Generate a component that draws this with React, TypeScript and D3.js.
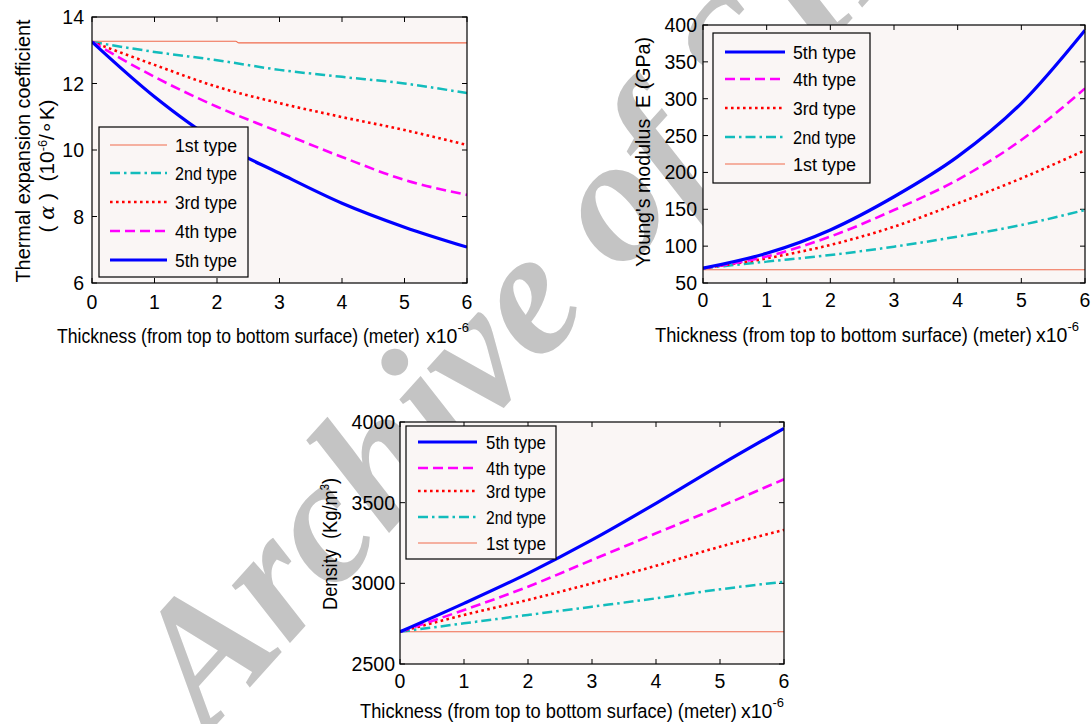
import React from 'react';
import * as d3 from 'd3';

// ---------------- DATA ----------------
const X_VALUES = [0, 1, 2, 3, 4, 5, 6];
const X_TICKS = [0, 1, 2, 3, 4, 5, 6];
const TYPE_NAMES = ['1st type', '2nd type', '3rd type', '4th type', '5th type'];

// Thermal expansion coefficient (10^-6 / K)
const THERMAL_1ST_X = [0, 2.3, 2.35, 6];
const THERMAL_1ST = [13.27, 13.27, 13.22, 13.22];
const THERMAL_2ND = [13.25, 12.95, 12.7, 12.41, 12.2, 12.0, 11.71];
const THERMAL_3RD = [13.25, 12.56, 11.9, 11.41, 10.99, 10.6, 10.15];
const THERMAL_4TH = [13.25, 12.2, 11.3, 10.54, 9.79, 9.1, 8.65];
const THERMAL_5TH = [13.25, 11.6, 10.25, 9.3, 8.4, 7.68, 7.08];
const THERMAL_Y_TICKS = [6, 8, 10, 12, 14];

// Young's modulus (GPa)
const YOUNG_1ST = [68, 68, 68, 68, 68, 68, 68];
const YOUNG_2ND = [70, 79, 88, 99.3, 113, 128.7, 149];
const YOUNG_3RD = [70, 83.5, 101.6, 126.4, 158, 192, 230];
const YOUNG_4TH = [70, 86, 113, 149, 190, 244, 314];
const YOUNG_5TH = [70, 90.3, 122, 167, 221.4, 293.8, 393];
const YOUNG_Y_TICKS = [50, 100, 150, 200, 250, 300, 350, 400];

// Density (Kg/m^3)
const DENSITY_1ST = [2700, 2700, 2700, 2700, 2700, 2700, 2700];
const DENSITY_2ND = [2700, 2752, 2804, 2855, 2907, 2963, 3010];
const DENSITY_3RD = [2700, 2804, 2897, 3000, 3109, 3227, 3331];
const DENSITY_4TH = [2700, 2835, 2979, 3145, 3310, 3475, 3645];
const DENSITY_5TH = [2700, 2876, 3062, 3269, 3496, 3733, 3961];
const DENSITY_Y_TICKS = [2500, 3000, 3500, 4000];

const X_LABEL = 'Thickness (from top to bottom surface) (meter)';
const X_LABEL_EM = 20.62; // Arial/Liberation Sans advance width of X_LABEL in em

// ---------------- STYLES ----------------
const STYLES = [
  { color: '#f06a4c', width: 1.2, dash: undefined as string | undefined },
  { color: '#12bcbc', width: 2.5, dash: '10,4,2.5,4' },
  { color: '#ff0000', width: 2.6, dash: '2.6,3.4' },
  { color: '#ff00ff', width: 2.6, dash: '10,5' },
  { color: '#0000ff', width: 3.2, dash: undefined },
];
const FONT = '"Liberation Sans", Arial, Helvetica, sans-serif';
const PLOT_BG = '#faf6f5';

type Series = { xs: number[]; ys: number[]; style: number };

interface ChartCfg {
  id: string;
  left: number; right: number; top: number; bottom: number;
  yDomain: [number, number];
  yTicks: number[];
  series: Series[];
  tickFs: number; tickGap: number; xTickBase: number;
  legend: { x: number; y: number; w: number; h: number; rows: number[]; order: number[]; sx0: number; sx1: number; tx: number; fs: number; tl: number };
  ylabel: { lines: React.ReactNode[]; xs: number[]; cy: number[]; lens: number[]; fs: number };
  xlabel: { x0: number; x1: number; base: number; xx: number; fs: number };
}

function Chart({ cfg }: { cfg: ChartCfg }) {
  const x = d3.scaleLinear().domain([0, 6]).range([cfg.left, cfg.right]);
  const y = d3.scaleLinear().domain(cfg.yDomain).range([cfg.bottom, cfg.top]);
  const line = d3.line<[number, number]>().x(d => x(d[0])).y(d => y(d[1])).curve(d3.curveMonotoneX);
  const tl = 5;
  const L = cfg.legend;
  const xlSx = (cfg.xlabel.x1 - cfg.xlabel.x0) / (X_LABEL_EM * cfg.xlabel.fs);
  return (
    <g fontFamily={FONT}>
      <defs>
        <clipPath id={`clip-${cfg.id}`}>
          <rect x={cfg.left} y={cfg.top} width={cfg.right - cfg.left} height={cfg.bottom - cfg.top} />
        </clipPath>
      </defs>
      <rect x={cfg.left} y={cfg.top} width={cfg.right - cfg.left} height={cfg.bottom - cfg.top} fill={PLOT_BG} />
      {X_TICKS.map(t => (
        <g key={`xt${t}`} stroke="#000" strokeWidth={1}>
          <line x1={x(t)} x2={x(t)} y1={cfg.bottom} y2={cfg.bottom - tl} />
          <line x1={x(t)} x2={x(t)} y1={cfg.top} y2={cfg.top + tl} />
        </g>
      ))}
      {cfg.yTicks.map(t => (
        <g key={`yt${t}`} stroke="#000" strokeWidth={1}>
          <line x1={cfg.left} x2={cfg.left + tl} y1={y(t)} y2={y(t)} />
          <line x1={cfg.right} x2={cfg.right - tl} y1={y(t)} y2={y(t)} />
        </g>
      ))}
      <g clipPath={`url(#clip-${cfg.id})`}>
        {cfg.series.map((s, i) => {
          const st = STYLES[s.style];
          const pts = s.xs.map((xv, k) => [xv, s.ys[k]] as [number, number]);
          return (
            <path key={i} d={line(pts) || ''} fill="none" stroke={st.color} strokeWidth={st.width}
              strokeDasharray={st.dash} strokeLinejoin="round" />
          );
        })}
      </g>
      <rect x={cfg.left} y={cfg.top} width={cfg.right - cfg.left} height={cfg.bottom - cfg.top} fill="none" stroke="#000" strokeWidth={1.2} />
      {X_TICKS.map(t => (
        <text key={`xl${t}`} x={x(t)} y={cfg.xTickBase} textAnchor="middle" fontSize={cfg.tickFs}>{t}</text>
      ))}
      {cfg.yTicks.map(t => (
        <text key={`yl${t}`} x={cfg.left - cfg.tickGap} y={y(t)} dy="0.36em" textAnchor="end" fontSize={cfg.tickFs}>{t}</text>
      ))}
      <rect x={L.x} y={L.y} width={L.w} height={L.h} fill={PLOT_BG} stroke="#000" strokeWidth={1.2} />
      {L.order.map((si, k) => {
        const st = STYLES[si];
        return (
          <g key={`lg${si}`}>
            <line x1={L.sx0} x2={L.sx1} y1={L.rows[k]} y2={L.rows[k]} stroke={st.color} strokeWidth={st.width} strokeDasharray={st.dash} />
            <text x={L.tx} y={L.rows[k]} dy="0.36em" fontSize={L.fs} textLength={L.tl} lengthAdjust="spacingAndGlyphs">{TYPE_NAMES[si]}</text>
          </g>
        );
      })}
      {cfg.ylabel.lines.map((ln, k) => (
        <text key={`yln${k}`} transform={`translate(${cfg.ylabel.xs[k]},${cfg.ylabel.cy[k]}) rotate(-90)`} textAnchor="middle"
          fontSize={cfg.ylabel.fs} textLength={cfg.ylabel.lens[k]} lengthAdjust="spacingAndGlyphs">{ln}</text>
      ))}
      <text transform={`translate(${cfg.xlabel.x0},${cfg.xlabel.base}) scale(${xlSx},1)`} fontSize={cfg.xlabel.fs}>
        {X_LABEL}
      </text>
      <text x={cfg.xlabel.xx} y={cfg.xlabel.base} fontSize={cfg.xlabel.fs}>
        x10<tspan dy={-11} fontSize={13}>-6</tspan>
      </text>
    </g>
  );
}

const mk = (xs: number[], ys: number[], style: number): Series => ({ xs, ys, style });

const thermalCfg: ChartCfg = {
  id: 'th', left: 92, right: 467, top: 17, bottom: 283,
  yDomain: [6, 14], yTicks: THERMAL_Y_TICKS,
  series: [
    mk(THERMAL_1ST_X, THERMAL_1ST, 0), mk(X_VALUES, THERMAL_2ND, 1), mk(X_VALUES, THERMAL_3RD, 2),
    mk(X_VALUES, THERMAL_4TH, 3), mk(X_VALUES, THERMAL_5TH, 4),
  ],
  tickFs: 19.5, tickGap: 8, xTickBase: 309,
  legend: { x: 99, y: 127, w: 149, h: 150, rows: [145, 173, 202, 231, 260], order: [0, 1, 2, 3, 4], sx0: 110, sx1: 167, tx: 175, fs: 19, tl: 62 },
  ylabel: {
    lines: [
      'Thermal expansion coefficient',
      <>{'(\u00A0'}<tspan fontFamily="'DejaVu Serif', serif" fontStyle="italic">α</tspan>{'\u00A0)\u00A0\u00A0(10'}<tspan dy={-7} fontSize={12}>-6</tspan><tspan dy={7}>/∘K)</tspan></>,
    ],
    xs: [30, 54], cy: [151, 166], lens: [263, 133], fs: 19.5,
  },
  xlabel: { x0: 57, x1: 420, base: 343, xx: 426, fs: 19.5 },
};

const youngCfg: ChartCfg = {
  id: 'yg', left: 703, right: 1085, top: 25, bottom: 283,
  yDomain: [50, 400], yTicks: YOUNG_Y_TICKS,
  series: [
    mk(X_VALUES, YOUNG_1ST, 0), mk(X_VALUES, YOUNG_2ND, 1), mk(X_VALUES, YOUNG_3RD, 2),
    mk(X_VALUES, YOUNG_4TH, 3), mk(X_VALUES, YOUNG_5TH, 4),
  ],
  tickFs: 19.5, tickGap: 6, xTickBase: 307,
  legend: { x: 713, y: 33, w: 157, h: 150, rows: [52, 79, 108, 137, 164], order: [4, 3, 2, 1, 0], sx0: 725, sx1: 785, tx: 793, fs: 19, tl: 63 },
  ylabel: { lines: ["Young's modulus\u00A0\u00A0E (GPa)"], xs: [650], cy: [152], lens: [230], fs: 19.5 },
  xlabel: { x0: 655, x1: 1032, base: 342, xx: 1036, fs: 19.5 },
};

const densityCfg: ChartCfg = {
  id: 'dn', left: 400, right: 784, top: 422, bottom: 664,
  yDomain: [2500, 4000], yTicks: DENSITY_Y_TICKS,
  series: [
    mk(X_VALUES, DENSITY_1ST, 0), mk(X_VALUES, DENSITY_2ND, 1), mk(X_VALUES, DENSITY_3RD, 2),
    mk(X_VALUES, DENSITY_4TH, 3), mk(X_VALUES, DENSITY_5TH, 4),
  ],
  tickFs: 19.5, tickGap: 5, xTickBase: 688,
  legend: { x: 406, y: 426, w: 150, h: 133, rows: [442, 468, 491, 517, 543], order: [4, 3, 2, 1, 0], sx0: 418, sx1: 477, tx: 486, fs: 19, tl: 60 },
  ylabel: {
    lines: [<>{'Density\u00A0\u00A0(Kg/m'}<tspan dy={-8} fontSize={12}>3</tspan><tspan dy={8}>)</tspan></>],
    xs: [337], cy: [544], lens: [132], fs: 19.5,
  },
  xlabel: { x0: 360, x1: 737, base: 718, xx: 741, fs: 19.5 },
};

export default function App() {
  return (
    <svg width={1091} height={724} viewBox="0 0 1091 724"
      style={{ position: 'absolute', left: 0, top: 0, background: '#fff' }}>
      <rect x={0} y={0} width={1091} height={724} fill="#fff" />
      <text transform="translate(208,734) rotate(-48)" fontFamily="'Liberation Serif', 'Times New Roman', serif"
        fontWeight="bold" fontStyle="italic" fontSize={178} fill="#c4c4c4">Archive of SID</text>
      <Chart cfg={thermalCfg} />
      <Chart cfg={youngCfg} />
      <Chart cfg={densityCfg} />
    </svg>
  );
}
